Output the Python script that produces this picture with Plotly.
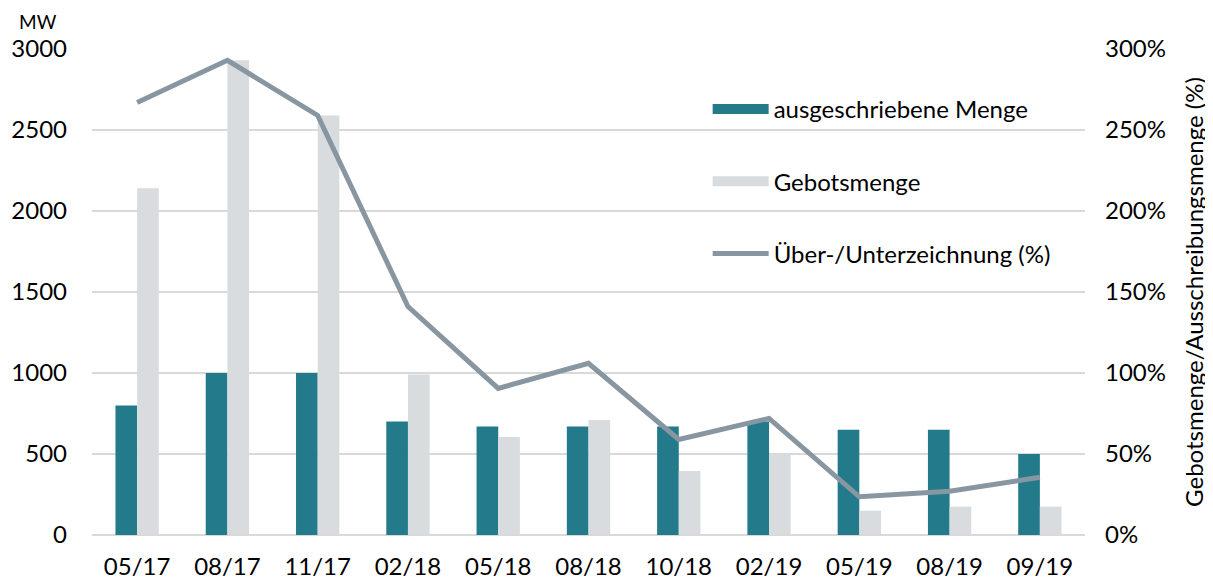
import plotly.graph_objects as go

categories = ["05/17", "08/17", "11/17", "02/18", "05/18", "08/18", "10/18", "02/19", "05/19", "08/19", "09/19"]
ausgeschrieben = [800, 1000, 1000, 700, 670, 670, 670, 700, 650, 650, 500]
gebotsmenge = [2140, 2930, 2590, 990, 605, 710, 395, 500, 150, 175, 175]
zeichnung_pct = [267, 293, 259, 141, 90.5, 106, 59, 72, 23.6, 27, 35.6]

left_ticks = [0, 500, 1000, 1500, 2000, 2500, 3000]
right_ticks = [0, 50, 100, 150, 200, 250, 300]
right_labels = ["0%", "50%", "100%", "150%", "200%", "250%", "300%"]

FONT = "Lato"
TEAL = "#237a8a"
LIGHT = "#d9dcdf"
LINE = "#8896a1"
GRID = "#d9d9d9"

fig = go.Figure()
fig.add_trace(go.Bar(x=categories, y=ausgeschrieben, name="ausgeschriebene Menge",
                     marker=dict(color=TEAL, line=dict(width=0)), showlegend=False))
fig.add_trace(go.Bar(x=categories, y=gebotsmenge, name="Gebotsmenge",
                     marker=dict(color=LIGHT, line=dict(width=0)), showlegend=False))
fig.add_trace(go.Scatter(x=categories, y=zeichnung_pct, name="Über-/Unterzeichnung (%)",
                         mode="lines", line=dict(color=LINE, width=5), yaxis="y2", showlegend=False))

# legend entries (wide swatches like the original)
fig.add_trace(go.Scatter(x=[None], y=[None], mode="lines", name="ausgeschriebene Menge",
                         line=dict(color=TEAL, width=14), legendgroup="a"))
fig.add_trace(go.Scatter(x=[None], y=[None], mode="lines", name="Gebotsmenge",
                         line=dict(color=LIGHT, width=14), legendgroup="b"))
fig.add_trace(go.Scatter(x=[None], y=[None], mode="lines", name="Über-/Unterzeichnung (%)",
                         line=dict(color=LINE, width=5), legendgroup="c", yaxis="y2"))

fig.update_layout(
    width=1205, height=571,
    margin=dict(l=84, r=128, t=41, b=44, autoexpand=False),
    paper_bgcolor="white", plot_bgcolor="white",
    font=dict(family=FONT, size=24, color="#000000"),
    barmode="group", bargap=0.52, bargroupgap=0,
    showlegend=True,
    legend=dict(x=0.62, y=0.922, xanchor="left", yanchor="top",
                bgcolor="rgba(0,0,0,0)", font=dict(size=24, family=FONT),
                tracegroupgap=38, traceorder="grouped", itemwidth=56),
    xaxis=dict(showgrid=False, showline=False, ticks="", tickfont=dict(size=24),
               ticklabelstandoff=15, automargin=False),
    yaxis=dict(range=[0, 3000], tickvals=left_ticks, showgrid=True, gridcolor=GRID, gridwidth=2,
               zeroline=True, zerolinecolor=GRID, zerolinewidth=2, showline=False,
               ticks="", tickfont=dict(size=24), ticklabelstandoff=24, automargin=False),
    yaxis2=dict(range=[0, 300], tickvals=right_ticks, ticktext=right_labels, overlaying="y",
                side="right", showgrid=False, zeroline=False, showline=False, ticks="",
                tickfont=dict(size=24), ticklabelstandoff=19, automargin=False,
                title=dict(text="Gebotsmenge/Ausschreibungsmenge (%)", font=dict(size=24), standoff=21)),
    annotations=[dict(text="MW", xref="paper", yref="paper", x=-0.054, y=1.082,
                      xanchor="center", yanchor="top", showarrow=False, borderpad=0,
                      font=dict(size=19))],
)

fig.write_html("out.html")
